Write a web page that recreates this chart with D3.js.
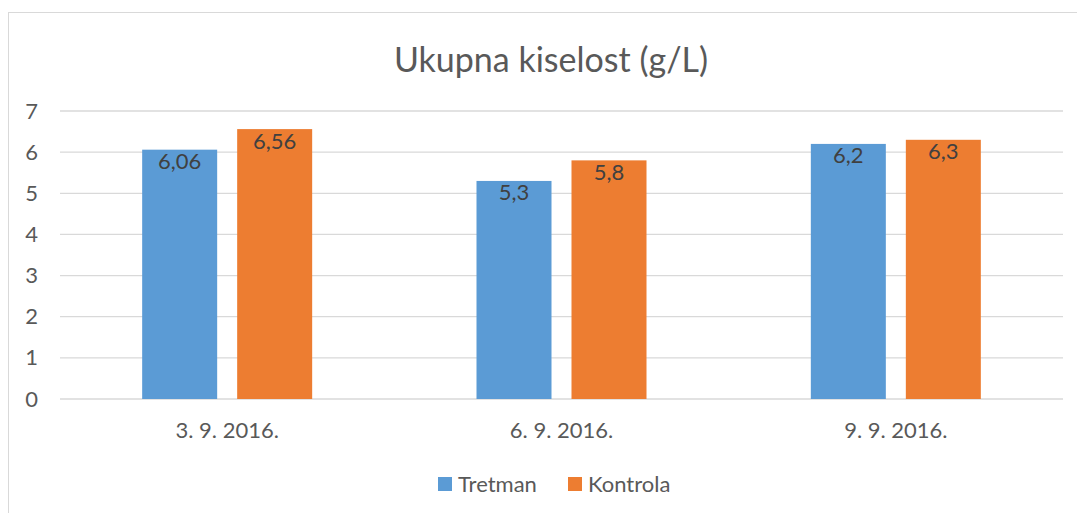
<!DOCTYPE html>
<html><head><meta charset="utf-8">
<script src="https://cdn.jsdelivr.net/npm/d3@7"></script>
<style>body{margin:0;background:#fff;} svg{display:block;font-family:Lato,"Open Sans",sans-serif;}</style>
</head><body><svg id="c" width="1077" height="513"></svg>
<script>
const title = "Ukupna kiselost (g/L)";
const categories = ["3. 9. 2016.", "6. 9. 2016.", "9. 9. 2016."];
const seriesNames = ["Tretman", "Kontrola"];
const tretman = [6.06, 5.3, 6.2];
const kontrola = [6.56, 5.8, 6.3];
const yTicks = [0, 1, 2, 3, 4, 5, 6, 7];
const colors = ["#5B9BD5", "#ED7D31"];

(function () {
const svg = d3.select("#c");
svg.append("rect").attr("x", 8.5).attr("y", 12.5).attr("width", 1100).attr("height", 600)
  .attr("fill", "#fff").attr("stroke", "#D9D9D9");

const pL = 60, pR = 1063, pT = 111, pB = 399;
const fs = 22;
const x = d3.scaleBand().domain(categories).range([pL, pR]).paddingInner(0).paddingOuter(0);
const y = d3.scaleLinear().domain([0, 7]).range([pB, pT]);

svg.append("text").attr("x", 551).attr("y", 72).attr("text-anchor", "middle")
  .attr("font-size", 34).attr("fill", "#595959").text(title);

svg.append("g").selectAll("line").data(yTicks).join("line")
  .attr("x1", pL).attr("x2", pR).attr("y1", d => y(d)).attr("y2", d => y(d))
  .attr("stroke", "#D9D9D9").attr("stroke-width", 1.3);

const yAxis = d3.axisLeft(y).tickValues(yTicks).tickSize(0).tickPadding(0).tickFormat(d3.format("d"));
const ga = svg.append("g").attr("transform", `translate(${pL - 22},0)`).call(yAxis);
ga.select(".domain").remove();
ga.selectAll("text").attr("font-size", fs).attr("fill", "#595959").attr("font-family", "Lato");

const xAxis = d3.axisBottom(x).tickSize(0).tickPadding(0);
const gx = svg.append("g").attr("transform", `translate(0,${pB + 23})`).call(xAxis);
gx.select(".domain").remove();
gx.selectAll("text").attr("font-size", fs).attr("fill", "#595959").attr("font-family", "Lato");

const inner = d3.scaleBand().domain(seriesNames).range([0, 170]).paddingInner(20/95);
const data = [tretman, kontrola];
data.forEach((vals, si) => {
  const g = svg.append("g");
  g.selectAll("rect").data(vals).join("rect")
    .attr("x", (d, i) => x(categories[i]) + x.bandwidth()/2 - 85 + inner(seriesNames[si]))
    .attr("y", d => y(d)).attr("width", inner.bandwidth())
    .attr("height", d => pB - y(d)).attr("fill", colors[si]);
  g.selectAll("text").data(vals).join("text")
    .attr("x", (d, i) => x(categories[i]) + x.bandwidth()/2 - 85 + inner(seriesNames[si]) + inner.bandwidth()/2)
    .attr("y", d => y(d) + 19.5).attr("text-anchor", "middle").attr("font-size", fs)
    .attr("fill", "#404040").text(d => String(d).replace(".", ","));
});

const leg = [{n: seriesNames[0], x: 438}, {n: seriesNames[1], x: 568}];
leg.forEach((l, i) => {
  svg.append("rect").attr("x", l.x).attr("y", 477).attr("width", 14).attr("height", 14).attr("fill", colors[i]);
  svg.append("text").attr("x", l.x + 20).attr("y", 492).attr("font-size", fs).attr("fill", "#595959").text(l.n);
});
})();
</script></body></html>
